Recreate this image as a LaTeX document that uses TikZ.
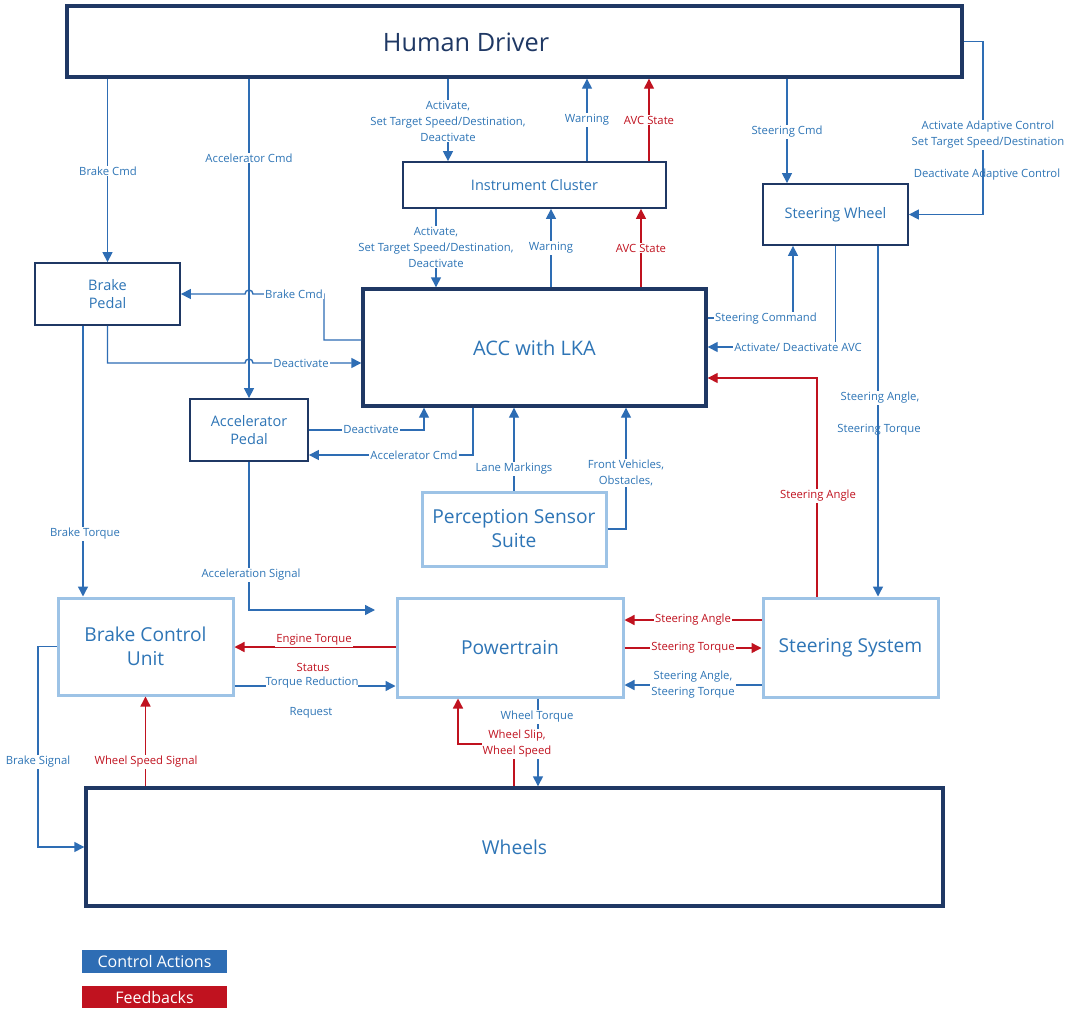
\documentclass[tikz,border=0pt]{standalone}
\usepackage{fontspec}
\setmainfont{Open Sans}
\usetikzlibrary{arrows.meta}
\definecolor{navy}{HTML}{1F3864}
\definecolor{cblue}{HTML}{2E6DB4}
\definecolor{tblue}{HTML}{2E75B6}
\definecolor{lblue}{HTML}{9DC3E6}
\definecolor{cred}{HTML}{C0121F}
\begin{document}
\begin{tikzpicture}[x=1pt,y=-1pt,
  box/.style={draw=navy, line width=1.8pt, text=tblue, align=center, inner sep=0pt, font=\fontsize{14.5}{18}\selectfont},
  bigbox/.style={draw=navy, line width=3.4pt, text=tblue, align=center, inner sep=0pt, font=\fontsize{20}{24}\selectfont},
  sysbox/.style={draw=lblue, line width=3pt, text=tblue, align=center, inner sep=0pt, font=\fontsize{19.2}{24}\selectfont},
  ctl/.style={draw=cblue, line width=1.4pt, -{Triangle[length=10pt,width=10pt]}},
  fb/.style={draw=cred, line width=1.4pt, -{Triangle[length=10pt,width=10pt]}},
  lab/.style={text=tblue, fill=white, inner sep=1pt, align=center, font=\fontsize{11.3}{16}\selectfont},
  labn/.style={lab, fill=none},
  rlab/.style={lab, text=cred},
  legend/.style={text=white, inner sep=0pt, font=\fontsize{16}{18}\selectfont}
]
\useasboundingbox[fill=white] (0,0) rectangle (1080,1012);

% ---------- boxes ----------
\node[bigbox, minimum width=895, minimum height=71] (hd) at (514.5,41.5) {};
\node[text=navy, inner sep=0pt, font=\fontsize{25.3}{30}\selectfont] (hdt) at (466,42) {Human Driver};
\node[box, minimum width=263, minimum height=46] (ic) at (534.5,185) {Instrument Cluster};
\node[box, minimum width=145, minimum height=61] (sw) at (835.5,214.5) {Steering Wheel};
\node[box, minimum width=145, minimum height=62] (bp) at (107.5,294) {Brake\\Pedal};
\node[bigbox, minimum width=343, minimum height=117] (acc) at (534.5,347.5) {ACC with LKA};
\node[box, minimum width=118, minimum height=62] (ap) at (249,430) {Accelerator\\Pedal};
\node[sysbox, minimum width=184, minimum height=74] (pss) at (514,529) {Perception Sensor\\Suite};
\node[sysbox, minimum width=175, minimum height=97] (bcu) at (145.5,646.5) {Brake Control\\Unit};
\node[sysbox, minimum width=226, minimum height=99] (pt) at (510,647.5) {Powertrain};
\node[sysbox, minimum width=175, minimum height=99] (ss) at (850.5,647.5) {Steering System};
\node[bigbox, font=\fontsize{19.2}{24}\selectfont, minimum width=857, minimum height=118] (wh) at (514.5,847) {Wheels};

% legend
\node[legend, fill=cblue, minimum width=145, minimum height=23] (lca) at (154.5,961.5) {Control Actions};
\node[legend, fill=cred, minimum width=145, minimum height=22] (lfb) at (154.5,997) {Feedbacks};

% ---------- helper coordinates ----------
\coordinate (x448) at (448,0);
\coordinate (x587) at (587,0);
\coordinate (x649) at (649,0);
\coordinate (x787) at (787,0);
\coordinate (x436) at (436,0);
\coordinate (x551) at (551,0);
\coordinate (x641) at (641,0);
\coordinate (x424) at (424,0);
\coordinate (x473) at (473,0);
\coordinate (x626) at (626,0);
\coordinate (x793) at (793,0);
\coordinate (x878) at (878,0);
\coordinate (x817) at (817,0);
\coordinate (x83) at (83,0);
\coordinate (x538) at (538,0);
\coordinate (x514) at (514,0);
\coordinate (y340) at (0,340);
\coordinate (y363) at (0,363);
\coordinate (y455) at (0,455);
\coordinate (y318) at (0,318);
\coordinate (y347) at (0,347);
\coordinate (y378) at (0,378);
\coordinate (y647) at (0,647);
\coordinate (y686) at (0,686);
\coordinate (y620) at (0,620);
\coordinate (y648) at (0,648);
\coordinate (y685) at (0,685);
\coordinate (c983) at (983,214.5);
\coordinate (c324a) at (324,340);
\coordinate (c324b) at (324,294);
\coordinate (c375) at (375,610);
\coordinate (c38) at (38,847);
\coordinate (c458) at (458,744);

% ---------- connectors ----------
% Human driver outputs
\draw[ctl] (hd.south -| bp.north) -- (bp.north);
\draw[ctl] (hd.south -| ap.north) -- (ap.north);
\draw[ctl] (hd.south -| x448) -- (ic.north -| x448);
\draw[ctl] (ic.north -| x587) -- (hd.south -| x587);
\draw[fb]  (ic.north -| x649) -- (hd.south -| x649);
\draw[ctl] (hd.south -| x787) -- (sw.north -| x787);
\draw[ctl] (hd.east) -| (c983) -- (sw.east);

% instrument cluster <-> ACC
\draw[ctl] (ic.south -| x436) -- (acc.north -| x436);
\draw[ctl] (acc.north -| x551) -- (ic.south -| x551);
\draw[fb]  (acc.north -| x641) -- (ic.south -| x641);

% ACC <-> pedals
\draw[ctl] (acc.west |- y340) -- (c324a) -- (c324b) -- (253,294) arc (0:-180:4) -- (bp.east);
\draw[ctl] (bp.south) -- (107.5,363) -- (245,363) arc (180:360:4) -- (acc.west |- y363);
\draw[ctl] (ap.east) -| (acc.south -| x424);
\draw[ctl] (acc.south -| x473) |- (ap.east |- y455);

% perception
\draw[ctl] (pss.north) -- (acc.south -| pss.north);
\draw[ctl] (pss.east) -| (acc.south -| x626);

% ACC <-> steering wheel / system
\draw[ctl] (acc.east |- y318) -| (sw.south -| x793);
\draw[ctl] (sw.south) |- (acc.east |- y347);
\draw[ctl] (sw.south -| x878) -- (ss.north -| x878);
\draw[fb]  (ss.north -| x817) |- (acc.east |- y378);

% lower part
\draw[ctl] (ap.south) |- (c375);
\draw[ctl] (bp.south -| x83) -- (bcu.north -| x83);
\draw[fb]  (pt.west |- y647) -- (bcu.east |- y647);
\draw[ctl] (bcu.east |- y686) -- (pt.west |- y686);
\draw[fb]  (wh.north -| bcu.south) -- (bcu.south);
\draw[ctl] (bcu.west) -| (c38) -- (wh.west);
\draw[ctl] (pt.south -| x538) -- (wh.north -| x538);
\draw[fb]  (wh.north -| x514) |- (c458) -- (pt.south -| c458);
\draw[fb]  (ss.west |- y620) -- (pt.east |- y620);
\draw[fb]  (pt.east |- y648) -- (ss.west |- y648);
\draw[ctl] (ss.west |- y685) -- (pt.east |- y685);

% ---------- labels ----------
\node[lab] (l1) at (108,171) {Brake Cmd};
\node[lab] (l2) at (249,158) {Accelerator Cmd};
\node[lab] (l3) at (448,121) {Activate,\\Set Target Speed/Destination,\\Deactivate};
\node[lab] (l4) at (587,120) {Warning};
\node[rlab] (l5) at (649,120) {AVC State};
\node[lab] (l6) at (787,132) {Steering Cmd};
\node[lab] (l7) at (988,135) {Activate Adaptive Control\\Set Target Speed/Destination};
\node[labn] (l8) at (987,175) {Deactivate Adaptive Control};
\node[lab] (l9) at (436,247) {Activate,\\Set Target Speed/Destination,\\Deactivate};
\node[lab] (l10) at (551,248) {Warning};
\node[rlab] (l11) at (641,248) {AVC State};
\node[lab] (l12) at (294,294) {Brake Cmd};
\node[lab] (l13) at (301,363) {Deactivate};
\node[lab] (l14) at (371,429) {Deactivate};
\node[lab] (l15) at (414,455) {Accelerator Cmd};
\node[lab] (l16) at (514,469) {Lane Markings};
\node[lab] (l17) at (626,473) {Front Vehicles,\\Obstacles,};
\node[lab] (l18) at (766,319) {Steering Command};
\node[lab] (l19) at (798,347) {Activate/ Deactivate AVC};
\node[lab] (l20) at (880,398) {Steering Angle,};
\node[labn] (l21) at (879,430) {Steering Torque};
\node[rlab] (l22) at (818,496) {Steering Angle};
\node[lab] (l23) at (251,575) {Acceleration Signal};
\node[lab] (l24) at (85,534) {Brake Torque};
\node[rlab] (l25) at (314,640) {Engine Torque};
\node[rlab, fill=none, inner sep=0pt] (l26) at (313,667) {Status};
\node[lab, inner sep=0pt] (l27) at (312,683) {Torque Reduction};
\node[lab] (l28) at (311,713) {Request};
\node[rlab] (l29) at (146,762) {Wheel Speed Signal};
\node[lab] (l30) at (38,762) {Brake Signal};
\node[lab] (l31) at (537,717) {Wheel Torque};
\node[rlab] (l32) at (517,744) {Wheel Slip,\\Wheel Speed};
\node[rlab] (l33) at (693,620) {Steering Angle};
\node[rlab] (l34) at (693,648) {Steering Torque};
\node[lab] (l35) at (693,685) {Steering Angle,\\Steering Torque};
\end{tikzpicture}
\end{document}
